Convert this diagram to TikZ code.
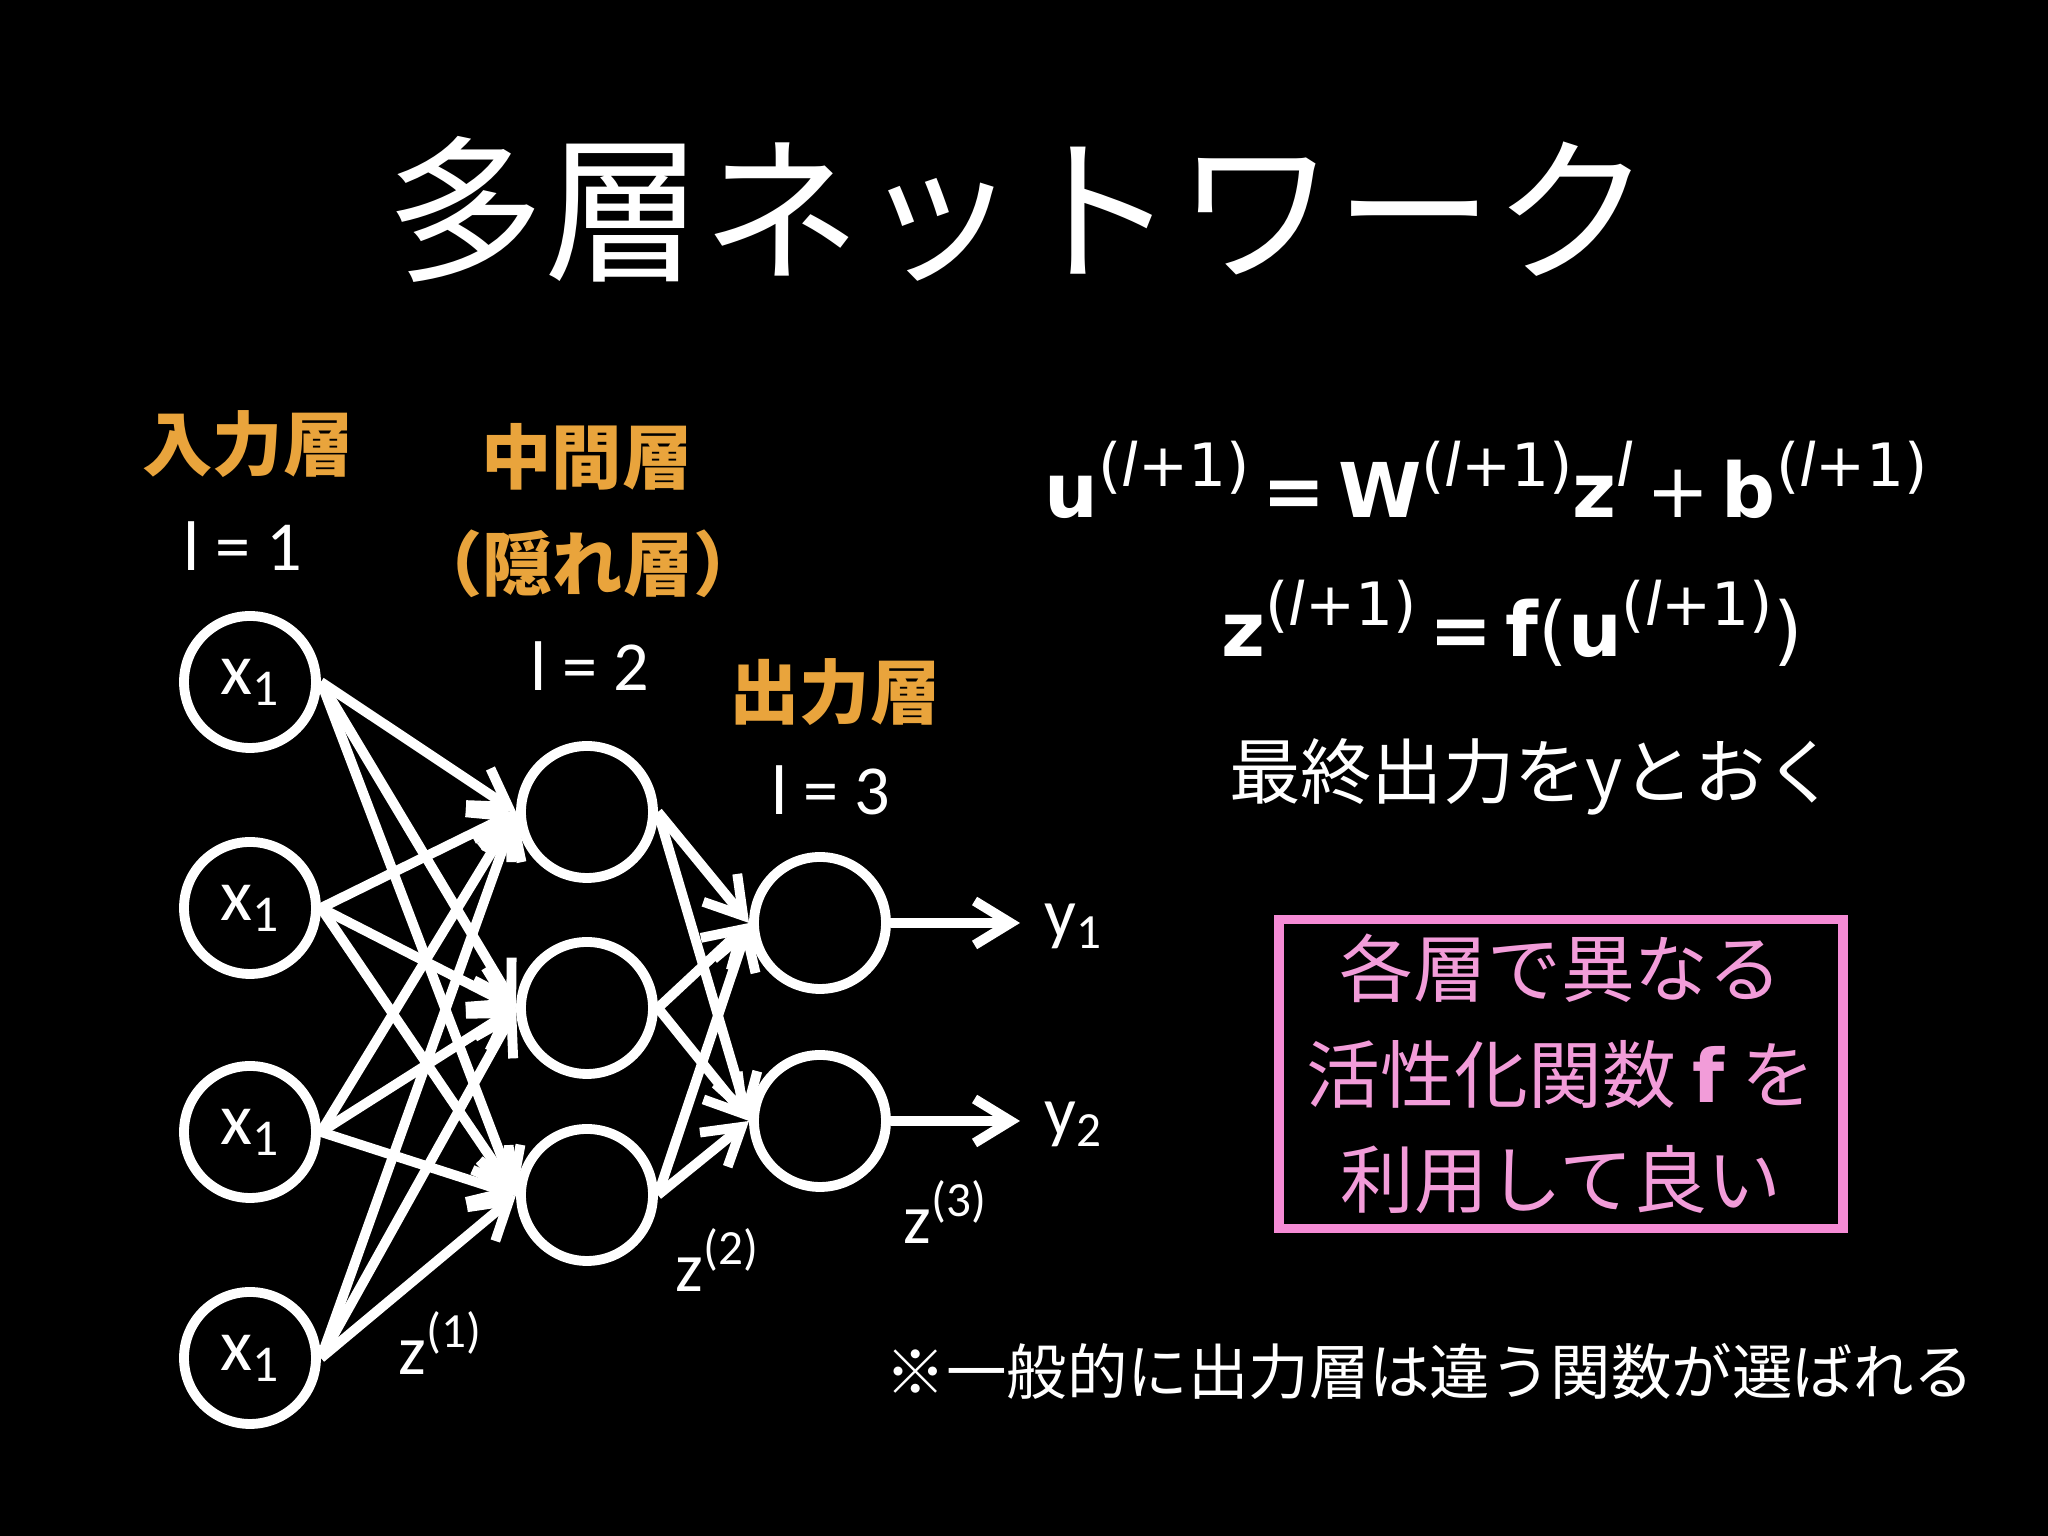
\documentclass[tikz,border=0pt]{standalone}
\usepackage{fontspec}
\setmainfont{Carlito}
\newfontfamily\jpfont{Noto Sans CJK JP}
\newfontfamily\eqfont{DejaVu Sans}
\usepackage{xcolor}
\usetikzlibrary{arrows.meta}
\definecolor{layerorange}{HTML}{E9A43C}
\definecolor{notepink}{HTML}{F58BD5}
\definecolor{notetext}{HTML}{F29CD9}
\tikzset{
	neuron/.style={circle, draw=white, line width=2.8pt, minimum size=1.32cm,
			inner sep=0pt, text=white, font=\fontsize{21}{24}\selectfont},
	link/.style={white, line width=2.8pt,
			-{Straight Barb[length=3.6mm, width=4.4mm]}},
	layername/.style={text=layerorange, font=\jpfont\bfseries\fontsize{20}{24}\selectfont},
	latinlabel/.style={text=white, font=\fontsize{20}{24}\selectfont},
	formula/.style={text=white, anchor=base, font=\eqfont\fontsize{21.5}{26}\selectfont},
	jptext/.style={text=white, font=\jpfont\fontsize{#1}{#1}\selectfont},
	notebox/.style={draw=notepink, line width=2.8pt, text=notetext, align=center,
			minimum width=5.64cm, minimum height=3.09cm, inner sep=0pt,
			font=\jpfont\fontsize{21}{30}\selectfont}
}
\newcommand{\eqsup}[1]{\raisebox{0.42em}{\fontsize{17}{17}\selectfont #1}}
\newcommand{\lsup}{\eqsup{(\textit{l}+1)}}

\begin{document}
\begin{tikzpicture}
	\fill[black] (0,0) rectangle (20.48,15.36);
	\useasboundingbox (0,0) rectangle (20.48,15.36);

	% title
	\node[jptext=45] (title) at (10.19,13.27) {多層ネットワーク};

	% layer names
	\node[layername] (inname) at (2.48,10.92) {入力層};
	\node[layername] (hidname) at (5.87,10.79) {中間層};
	\node[layername] (hidsub) at (5.88,9.72) {（隠れ層）};
	\node[layername] (outname) at (8.35,8.44) {出力層};
	\node[latinlabel] (inno) at (2.43,9.90) {l = 1};
	\node[latinlabel] (hidno) at (5.90,8.70) {l = 2};
	\node[latinlabel] (outno) at (8.31,7.46) {l = 3};

	% neurons
	\node[neuron] (in1) at (2.50,8.54) {x\textsubscript{1}};
	\node[neuron] (in2) at (2.50,6.28) {x\textsubscript{1}};
	\node[neuron] (in3) at (2.50,4.04) {x\textsubscript{1}};
	\node[neuron] (in4) at (2.50,1.78) {x\textsubscript{1}};
	\node[neuron] (hid1) at (5.87,7.24) {};
	\node[neuron] (hid2) at (5.87,5.28) {};
	\node[neuron] (hid3) at (5.87,3.41) {};
	\node[neuron] (out1) at (8.20,6.13) {};
	\node[neuron] (out2) at (8.20,4.15) {};

	\foreach \i in {1,...,4}
		\foreach \j in {1,2,3}
			\draw[link] (in\i.east) -- (hid\j.west);
	\foreach \j in {1,2,3}
		\foreach \k in {1,2}
			\draw[link] (hid\j.east) -- (out\k.west);

	% outputs
	\coordinate (tip1) at (10.20,6.13);
	\coordinate (tip2) at (10.20,4.15);
	\draw[link] (out1.east) -- (tip1);
	\draw[link] (out2.east) -- (tip2);
	\node[latinlabel, anchor=west] (y1) at (10.32,6.10) {y\textsubscript{1}};
	\node[latinlabel, anchor=west] (y2) at (10.32,4.12) {y\textsubscript{2}};

	\node[latinlabel] (z1) at (4.41,1.93) {z\textsuperscript{(1)}};
	\node[latinlabel] (z2) at (7.18,2.76) {z\textsuperscript{(2)}};
	\node[latinlabel] (z3) at (9.46,3.24) {z\textsuperscript{(3)}};

	% formulas
	\node[formula] (eqone) at (14.86,10.18)
		{\textbf{u}\lsup\,\textbf{=}\,\textbf{W}\lsup\textbf{z}\eqsup{\textit{l}}\,+\,\textbf{b}\lsup};
	\node[formula] (eqtwo) at (15.12,8.79)
		{\textbf{z}\lsup\,\textbf{=}\,\textbf{f}(\textbf{u}\lsup)};
	\node[jptext=20.3] (final) at (15.33,7.59) {最終出力をyとおく};

	% note
	\node[notebox] (note) at (15.61,4.62)
		{各層で異なる\\活性化関数 {\eqfont\bfseries f} を\\利用して良い};
	\node[jptext=17.2] (remark) at (14.30,1.65) {※一般的に出力層は違う関数が選ばれる};
\end{tikzpicture}
\end{document}
